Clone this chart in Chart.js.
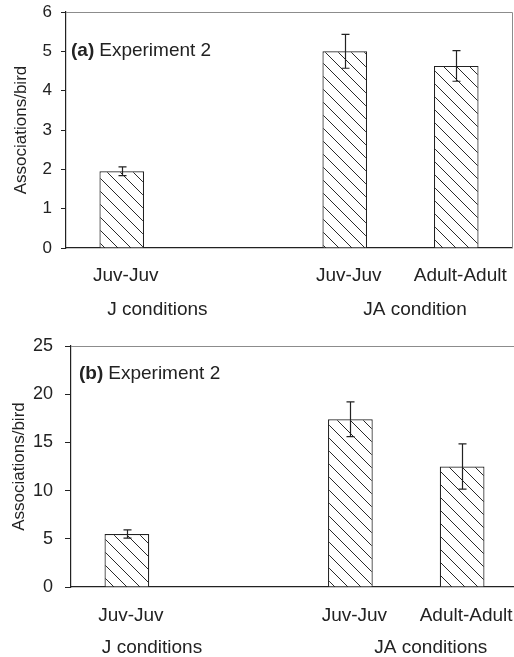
<!DOCTYPE html>
<html>
<head>
<meta charset="utf-8">
<script src="https://cdn.jsdelivr.net/npm/chart.js@4.4.1/dist/chart.umd.min.js"></script>
<style>
  html, body { margin: 0; padding: 0; background: #fff; overflow: hidden; width: 514px; height: 657px; }
  #wrapA { position: absolute; left: 0; top: 0; width: 514px; height: 330px; }
  #wrapB { position: absolute; left: 0; top: 330px; width: 520px; height: 327px; }
  canvas { display: block; }
</style>
</head>
<body>
<div id="wrapA"><canvas id="chartA" width="514" height="330"></canvas></div>
<div id="wrapB"><canvas id="chartB" width="520" height="327"></canvas></div>
<script>
// Pairing categories (the empty slot separates the two condition groups)
const categories = ['Juv-Juv', '', 'Juv-Juv', 'Adult-Adult'];
const groupLabelsA = ['J conditions', 'JA condition'];
const groupLabelsB = ['J conditions', 'JA conditions'];

// (a) Experiment 2 – associations per bird, mean and standard error
const meansA = [1.95, null, 5.0, 4.63];
const errorsA = [0.11, null, 0.43, 0.39];
const yTicksA = [0, 1, 2, 3, 4, 5, 6];

// (b) Experiment 2 – associations per bird, mean and standard error
const meansB = [5.5, null, 17.4, 12.5];
const errorsB = [0.43, null, 1.8, 2.35];
const yTicksB = [0, 5, 10, 15, 20, 25];

const FONT = "'Liberation Sans', Arial, Helvetica, sans-serif";
const INK = '#222';
Chart.defaults.font.family = FONT;
Chart.defaults.color = INK;

// White fill with back-slash hatching
function hatchPattern(ctx) {
  const s = 13;
  const tile = document.createElement('canvas');
  tile.width = s; tile.height = s;
  const g = tile.getContext('2d');
  g.fillStyle = '#fff';
  g.fillRect(0, 0, s, s);
  g.strokeStyle = '#2a2a2a';
  g.lineWidth = 1;
  g.beginPath();
  g.moveTo(-1, -1); g.lineTo(s + 1, s + 1);
  g.moveTo(-1, s - 1); g.lineTo(1, s + 1);
  g.moveTo(s - 1, -1); g.lineTo(s + 1, 1);
  g.stroke();
  return ctx.createPattern(tile, 'repeat');
}

// Mean ± SE whiskers
const errorBars = {
  id: 'errorBars',
  afterDatasetsDraw(chart, args, opts) {
    const meta = chart.getDatasetMeta(0);
    const y = chart.scales.y;
    const ctx = chart.ctx;
    ctx.save();
    ctx.strokeStyle = INK;
    ctx.lineWidth = 1.2;
    meta.data.forEach((bar, i) => {
      const m = opts.means[i], e = opts.errors[i];
      if (m == null || e == null) return;
      const x = Math.round(bar.x) + 0.5;
      const yt = y.getPixelForValue(m + e);
      const yb = y.getPixelForValue(m - e);
      const cap = 4;
      ctx.beginPath();
      ctx.moveTo(x, yt); ctx.lineTo(x, yb);
      ctx.moveTo(x - cap, yt); ctx.lineTo(x + cap, yt);
      ctx.moveTo(x - cap, yb); ctx.lineTo(x + cap, yb);
      ctx.stroke();
    });
    ctx.restore();
  }
};

// Light top and right frame around the plot area
const frame = {
  id: 'frame',
  beforeDatasetsDraw(chart) {
    const { ctx, chartArea: a } = chart;
    ctx.save();
    ctx.strokeStyle = '#8c8c8c';
    ctx.lineWidth = 1;
    ctx.beginPath();
    ctx.moveTo(a.left, Math.round(a.top) + 0.5);
    ctx.lineTo(Math.round(a.right) + 0.5, Math.round(a.top) + 0.5);
    ctx.lineTo(Math.round(a.right) + 0.5, a.bottom);
    ctx.stroke();
    ctx.restore();
  }
};

// Condition group names below the category labels
const groupLabels = {
  id: 'groupLabels',
  afterDraw(chart, args, opts) {
    const { ctx, chartArea: a } = chart;
    const x = chart.scales.x;
    ctx.save();
    ctx.fillStyle = INK;
    ctx.font = `19px ${FONT}`;
    ctx.textAlign = 'center';
    ctx.textBaseline = 'middle';
    opts.labels.forEach((t, i) => {
      ctx.fillText(t, x.getPixelForValue(opts.anchors[i]), a.bottom + opts.offset);
    });
    ctx.restore();
  }
};

// Panel letter and experiment name inside the plot area
const panelTitle = {
  id: 'panelTitle',
  afterDraw(chart, args, opts) {
    const { ctx, chartArea: a } = chart;
    ctx.save();
    ctx.fillStyle = INK;
    ctx.textBaseline = 'middle';
    ctx.textAlign = 'left';
    const x0 = a.left + opts.dx, y0 = a.top + opts.dy;
    ctx.font = `bold 19px ${FONT}`;
    ctx.fillText(opts.letter, x0, y0);
    const w = ctx.measureText(opts.letter).width;
    ctx.font = `19px ${FONT}`;
    ctx.fillText(opts.text, x0 + w + 5, y0);
    ctx.restore();
  }
};

function makeChart(id, cfg) {
  const canvas = document.getElementById(id);
  const ctx = canvas.getContext('2d');
  const ticks = cfg.yTicks;
  return new Chart(canvas, {
    type: 'bar',
    data: {
      labels: categories,
      datasets: [{
        data: cfg.means,
        backgroundColor: hatchPattern(ctx),
        borderColor: INK,
        borderWidth: 1.2,
        barPercentage: 0.4,
        categoryPercentage: 1
      }]
    },
    options: {
      responsive: false,
      animation: false,
      devicePixelRatio: 1,
      layout: { padding: { top: cfg.padTop, right: 2, left: 0, bottom: 0 } },
      plugins: {
        legend: { display: false },
        tooltip: { enabled: false },
        errorBars: { means: cfg.means, errors: cfg.errors },
        groupLabels: { labels: cfg.groups, anchors: cfg.groupAnchors, offset: cfg.groupOffset },
        panelTitle: { letter: cfg.letter, text: 'Experiment 2', dx: cfg.titleDx, dy: cfg.titleDy }
      },
      scales: {
        x: {
          grid: { display: false, drawTicks: false, tickLength: 0 },
          border: { display: true, color: INK, width: 1.2 },
          ticks: {
            color: INK, font: { size: 19 }, padding: cfg.xTickPad, labelOffset: 4,
            maxRotation: 0, minRotation: 0, autoSkip: false
          },
          afterFit(s) { s.height = cfg.xHeight; s.paddingLeft = 0; s.paddingRight = 0; }
        },
        y: {
          min: ticks[0],
          max: ticks[ticks.length - 1],
          ticks: { stepSize: ticks[1] - ticks[0], color: INK, font: { size: cfg.yTickSize }, padding: cfg.yTickPad },
          grid: { display: true, drawOnChartArea: false, drawTicks: true, tickLength: cfg.yTickLen, color: INK, lineWidth: 1 },
          border: { display: true, color: INK, width: 1.2 },
          title: {
            display: true, text: 'Associations/bird', color: INK,
            font: { size: 17 }, padding: { top: cfg.yTitleTop, bottom: 0 }
          },
          afterFit(s) { s.width = cfg.yWidth; s.paddingTop = 0; s.paddingBottom = 0; }
        }
      }
    },
    plugins: [frame, errorBars, groupLabels, panelTitle]
  });
}

makeChart('chartA', {
  means: meansA, errors: errorsA, yTicks: yTicksA,
  groups: groupLabelsA, groupAnchors: [0.32, 2.63], groupOffset: 62,
  letter: '(a)', titleDx: 5, titleDy: 39,
  padTop: 12, xHeight: 82, yWidth: 66, xTickPad: 16,
  yTickSize: 17, yTickPad: 9, yTickLen: 5, yTitleTop: 11
});

makeChart('chartB', {
  means: meansB, errors: errorsB, yTicks: yTicksB,
  groups: groupLabelsB, groupAnchors: [0.225, 2.72], groupOffset: 61,
  letter: '(b)', titleDx: 8, titleDy: 28,
  padTop: 16, xHeight: 70, yWidth: 71, xTickPad: 17,
  yTickSize: 18, yTickPad: 12, yTickLen: 6, yTitleTop: 9
});
</script>
</body>
</html>
